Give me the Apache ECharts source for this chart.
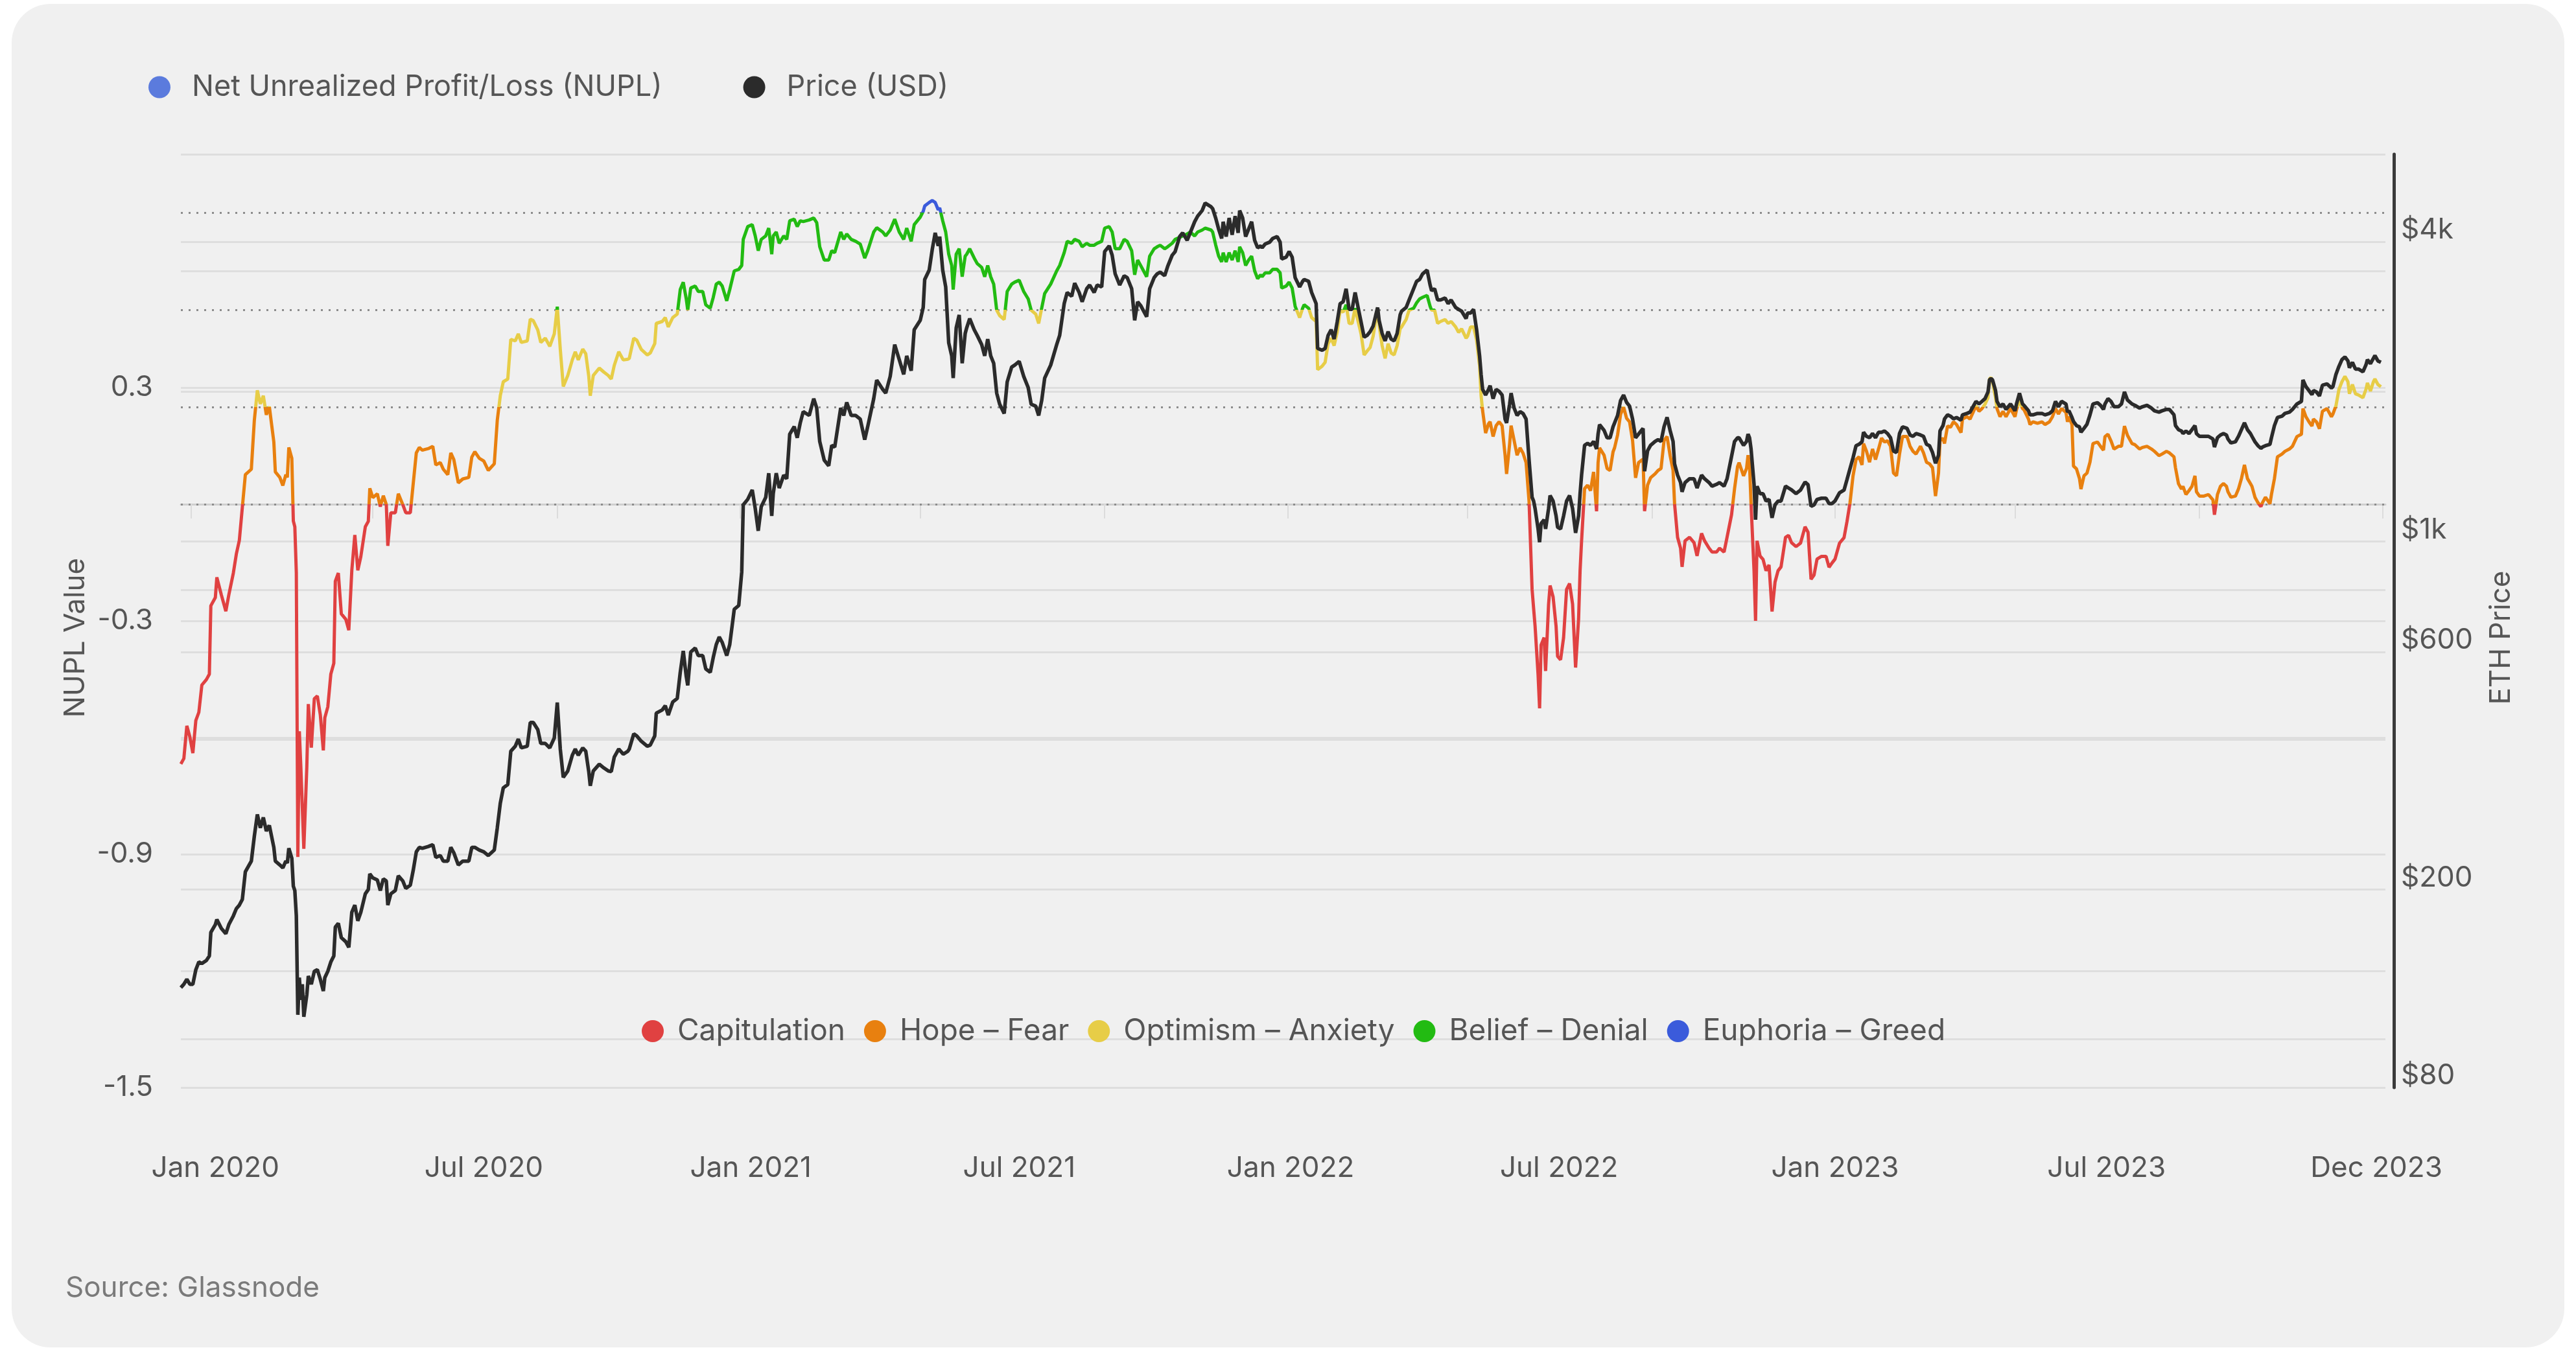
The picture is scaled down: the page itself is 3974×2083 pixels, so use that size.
<!DOCTYPE html>
<html>
<head>
<meta charset="utf-8">
<title>ETH NUPL vs Price</title>
<script src="https://cdn.jsdelivr.net/npm/echarts@6/dist/echarts.min.js"></script>
<style>
  html, body { margin: 0; padding: 0; background: #ffffff; }
  #card { position: absolute; left: 18px; top: 6px; width: 3938px; height: 2073px; background: #f0f0f0; border-radius: 60px; }
  #chart { position: absolute; left: 0; top: 0; width: 3974px; height: 2083px; }
</style>
</head>
<body>
<div id="card"></div>
<div id="chart"></div>
<script>
// ---- data (dates, NUPL value, ETH price in USD) ----
// first four points are late Dec 2019
const dates2020 = [
  '2019-12-25','2019-12-27','2019-12-29','2019-12-31','2020-01-02','2020-01-04','2020-01-06','2020-01-08','2020-01-11','2020-01-13',
  '2020-01-14','2020-01-17','2020-01-18','2020-01-21','2020-01-24','2020-01-26','2020-01-29','2020-01-31','2020-02-02','2020-02-04',
  '2020-02-06','2020-02-10','2020-02-12','2020-02-14','2020-02-16','2020-02-18','2020-02-20','2020-02-22','2020-02-25','2020-02-26',
  '2020-02-29','2020-03-02','2020-03-04','2020-03-05','2020-03-06','2020-03-08','2020-03-09','2020-03-10','2020-03-11','2020-03-12',
  '2020-03-13','2020-03-14','2020-03-15','2020-03-16','2020-03-18','2020-03-19','2020-03-21','2020-03-23','2020-03-25','2020-03-27',
  '2020-03-29','2020-03-30','2020-04-01','2020-04-03','2020-04-05','2020-04-06','2020-04-08','2020-04-10','2020-04-13','2020-04-15',
  '2020-04-17','2020-04-19','2020-04-21','2020-04-23','2020-04-26','2020-04-28','2020-04-29','2020-05-01','2020-05-04','2020-05-06',
  '2020-05-08','2020-05-10','2020-05-11','2020-05-13','2020-05-16','2020-05-18','2020-05-21','2020-05-23','2020-05-26','2020-05-28',
  '2020-05-30','2020-06-01','2020-06-03','2020-06-07','2020-06-10','2020-06-12','2020-06-15','2020-06-17','2020-06-20','2020-06-22',
  '2020-06-24','2020-06-27','2020-06-30','2020-07-04','2020-07-06','2020-07-08','2020-07-11','2020-07-14','2020-07-17','2020-07-21',
  '2020-07-23','2020-07-25','2020-07-27','2020-07-30','2020-08-01','2020-08-04','2020-08-06','2020-08-08','2020-08-12','2020-08-14',
  '2020-08-16','2020-08-19','2020-08-21','2020-08-24','2020-08-27','2020-08-30','2020-09-01','2020-09-03','2020-09-05','2020-09-08',
  '2020-09-11','2020-09-13','2020-09-15','2020-09-18','2020-09-20','2020-09-22','2020-09-23','2020-09-25','2020-09-29','2020-10-02',
  '2020-10-05','2020-10-07','2020-10-09','2020-10-12','2020-10-15','2020-10-18','2020-10-19','2020-10-22','2020-10-24','2020-10-27',
  '2020-10-31','2020-11-02','2020-11-05','2020-11-06','2020-11-10','2020-11-12','2020-11-14','2020-11-17','2020-11-20','2020-11-22',
  '2020-11-24','2020-11-26','2020-11-27','2020-11-29','2020-12-02','2020-12-04','2020-12-07','2020-12-09','2020-12-12','2020-12-14',
  '2020-12-16','2020-12-18','2020-12-20','2020-12-23','2020-12-25','2020-12-28','2020-12-31'
];
const nupl2020 = [
  -0.668,-0.654,-0.570,-0.598,-0.640,-0.556,-0.535,-0.465,-0.451,-0.437,
  -0.261,-0.240,-0.188,-0.233,-0.275,-0.233,-0.177,-0.128,-0.093,-0.008,
  0.076,0.090,0.216,0.293,0.258,0.279,0.230,0.251,0.160,0.083,
  0.069,0.048,0.076,0.069,0.146,0.118,-0.043,-0.058,-0.177,-0.907,
  -0.584,-0.675,-0.781,-0.886,-0.675,-0.514,-0.626,-0.500,-0.493,-0.542,
  -0.633,-0.549,-0.521,-0.437,-0.409,-0.198,-0.177,-0.282,-0.296,-0.324,
  -0.170,-0.079,-0.170,-0.135,-0.058,-0.044,0.041,0.017,0.027,-0.006,
  0.022,-0.001,-0.107,-0.022,-0.022,0.027,-0.001,-0.022,-0.022,0.055,
  0.132,0.146,0.139,0.143,0.149,0.101,0.107,0.090,0.076,0.132,
  0.115,0.055,0.065,0.069,0.121,0.135,0.118,0.111,0.087,0.104,
  0.216,0.279,0.315,0.322,0.424,0.420,0.438,0.416,0.420,0.476,
  0.472,0.448,0.416,0.427,0.406,0.438,0.508,0.399,0.303,0.331,
  0.371,0.392,0.371,0.399,0.387,0.329,0.279,0.331,0.350,0.340,
  0.331,0.322,0.357,0.392,0.371,0.373,0.375,0.427,0.422,0.398,
  0.384,0.389,0.413,0.465,0.470,0.480,0.456,0.480,0.489,0.552,
  0.571,0.528,0.499,0.556,0.561,0.547,0.547,0.513,0.504,0.532,
  0.566,0.571,0.561,0.523,0.552,0.600,0.604
];
const price2020 = [
  127,129,132,129,129,138,143,142,144,147,
  164,170,174,167,163,170,177,183,186,191,
  217,228,256,283,266,279,262,269,243,228,
  224,221,228,226,242,231,203,199,177,112,
  133,120,129,111,123,134,129,137,138,132,
  125,133,137,143,147,168,171,160,157,153,
  180,186,173,180,196,200,215,211,209,199,
  210,208,186,196,199,213,208,201,204,219,
  238,243,242,244,246,232,234,228,228,243,
  237,224,228,228,243,243,240,238,234,240,
  266,298,320,325,379,388,401,385,388,433,
  433,419,393,393,385,403,475,383,336,346,
  372,383,372,385,379,345,323,346,357,351,
  346,345,369,383,374,379,383,411,407,397,
  388,390,407,452,459,468,448,476,484,546,
  603,536,514,600,611,590,590,555,546,585,
  621,643,627,590,621,731,744
];

const dates2021 = [
  '2021-01-02','2021-01-03','2021-01-06','2021-01-09','2021-01-11','2021-01-13','2021-01-15','2021-01-18','2021-01-20','2021-01-22',
  '2021-01-23','2021-01-25','2021-01-27','2021-01-30','2021-02-01','2021-02-03','2021-02-06','2021-02-08','2021-02-10','2021-02-12',
  '2021-02-16','2021-02-19','2021-02-21','2021-02-23','2021-02-26','2021-03-01','2021-03-03','2021-03-05','2021-03-09','2021-03-11',
  '2021-03-13','2021-03-16','2021-03-19','2021-03-22','2021-03-25','2021-03-27','2021-03-31','2021-04-02','2021-04-06','2021-04-08',
  '2021-04-11','2021-04-14','2021-04-17','2021-04-20','2021-04-22','2021-04-25','2021-04-27','2021-05-01','2021-05-03','2021-05-04',
  '2021-05-07','2021-05-09','2021-05-11','2021-05-13','2021-05-14','2021-05-16','2021-05-18','2021-05-20','2021-05-22','2021-05-23',
  '2021-05-25','2021-05-27','2021-05-29','2021-05-31','2021-06-01','2021-06-03','2021-06-06','2021-06-08','2021-06-11','2021-06-13',
  '2021-06-15','2021-06-17','2021-06-19','2021-06-21','2021-06-23','2021-06-26','2021-06-28','2021-07-01','2021-07-03','2021-07-06',
  '2021-07-09','2021-07-12','2021-07-14','2021-07-17','2021-07-19','2021-07-21','2021-07-23','2021-07-27','2021-07-31','2021-08-02',
  '2021-08-05','2021-08-07','2021-08-10','2021-08-12','2021-08-15','2021-08-17','2021-08-20','2021-08-22','2021-08-25','2021-08-27',
  '2021-08-30','2021-09-01','2021-09-04','2021-09-06','2021-09-08','2021-09-11','2021-09-14','2021-09-16','2021-09-19','2021-09-21',
  '2021-09-23','2021-09-25','2021-09-29','2021-10-01','2021-10-04','2021-10-06','2021-10-08','2021-10-11','2021-10-13','2021-10-16',
  '2021-10-18','2021-10-21','2021-10-23','2021-10-26','2021-10-28','2021-10-31','2021-11-02','2021-11-05','2021-11-07','2021-11-11',
  '2021-11-12','2021-11-14','2021-11-16','2021-11-18','2021-11-19','2021-11-21','2021-11-23','2021-11-25','2021-11-27','2021-11-29',
  '2021-11-30','2021-12-02','2021-12-04','2021-12-06','2021-12-08','2021-12-10','2021-12-12','2021-12-14','2021-12-15','2021-12-17',
  '2021-12-20','2021-12-22','2021-12-25','2021-12-27','2021-12-28','2021-12-31'
];
const nupl2021 = [
  0.614,0.681,0.714,0.719,0.690,0.652,0.681,0.690,0.710,0.643,
  0.690,0.700,0.671,0.690,0.681,0.729,0.733,0.714,0.729,0.727,
  0.731,0.736,0.724,0.662,0.628,0.628,0.652,0.647,0.700,0.681,
  0.695,0.681,0.676,0.669,0.633,0.652,0.700,0.711,0.700,0.690,
  0.705,0.733,0.700,0.681,0.710,0.676,0.719,0.738,0.753,0.767,
  0.776,0.781,0.776,0.757,0.762,0.729,0.700,0.643,0.614,0.552,
  0.643,0.657,0.585,0.638,0.643,0.657,0.633,0.619,0.609,0.585,
  0.614,0.585,0.566,0.499,0.485,0.475,0.547,0.566,0.571,0.576,
  0.547,0.528,0.499,0.489,0.465,0.504,0.542,0.566,0.600,0.614,
  0.647,0.676,0.671,0.681,0.676,0.662,0.671,0.666,0.666,0.671,
  0.676,0.710,0.714,0.700,0.657,0.657,0.681,0.676,0.652,0.590,
  0.628,0.614,0.585,0.638,0.657,0.662,0.666,0.657,0.662,0.671,
  0.681,0.686,0.690,0.695,0.700,0.690,0.700,0.705,0.710,0.705,
  0.700,0.667,0.638,0.623,0.647,0.623,0.647,0.628,0.652,0.623,
  0.662,0.647,0.614,0.628,0.638,0.600,0.580,0.590,0.585,0.595,
  0.595,0.604,0.604,0.595,0.556,0.561
];
const price2021 = [
  869,1185,1216,1270,1165,1051,1175,1227,1372,1126,
  1248,1372,1281,1360,1337,1644,1702,1616,1731,1824,
  1792,1937,1855,1589,1457,1420,1561,1548,1855,1792,
  1904,1792,1792,1762,1602,1702,1937,2111,2022,1987,
  2148,2487,2321,2167,2361,2204,2665,2782,2953,3362,
  3511,3858,4170,3926,4099,3511,3248,2508,2361,2130,
  2688,2854,2281,2619,2688,2805,2665,2596,2487,2361,
  2552,2361,2281,1987,1887,1808,2093,2242,2262,2301,
  2148,2039,1887,1871,1792,1920,2130,2262,2487,2596,
  3006,3165,3111,3304,3165,3032,3220,3276,3165,3276,
  3248,3825,3926,3760,3450,3276,3420,3391,3220,2782,
  3032,2980,2829,3220,3391,3450,3479,3420,3571,3760,
  3825,4099,4170,4030,4170,4391,4506,4624,4786,4704,
  4665,4468,4243,4064,4391,4099,4468,4134,4506,4170,
  4624,4468,4099,4243,4391,4030,3893,3926,3893,3960,
  3995,4064,4099,3995,3696,3728
];

const dates2022 = [
  '2022-01-02','2022-01-04','2022-01-06','2022-01-09','2022-01-11','2022-01-12','2022-01-15','2022-01-17','2022-01-20','2022-01-21',
  '2022-01-24','2022-01-26','2022-01-28','2022-01-30','2022-02-01','2022-02-03','2022-02-05','2022-02-07','2022-02-09','2022-02-11',
  '2022-02-13','2022-02-15','2022-02-17','2022-02-19','2022-02-21','2022-02-23','2022-02-25','2022-02-27','2022-03-02','2022-03-03',
  '2022-03-05','2022-03-07','2022-03-09','2022-03-11','2022-03-13','2022-03-15','2022-03-17','2022-03-18','2022-03-21','2022-03-23',
  '2022-03-26','2022-03-28','2022-03-30','2022-04-01','2022-04-04','2022-04-06','2022-04-07','2022-04-09','2022-04-11','2022-04-13',
  '2022-04-16','2022-04-18','2022-04-20','2022-04-23','2022-04-25','2022-04-27','2022-04-30','2022-05-01','2022-05-03','2022-05-05',
  '2022-05-07','2022-05-09','2022-05-10','2022-05-11','2022-05-13','2022-05-15','2022-05-16','2022-05-18','2022-05-20','2022-05-22',
  '2022-05-24','2022-05-26','2022-05-27','2022-05-29','2022-05-30','2022-06-01','2022-06-03','2022-06-05','2022-06-07','2022-06-09',
  '2022-06-11','2022-06-13','2022-06-14','2022-06-15','2022-06-17','2022-06-18','2022-06-19','2022-06-21','2022-06-22','2022-06-24',
  '2022-06-25','2022-06-27','2022-06-29','2022-06-30','2022-07-02','2022-07-04','2022-07-06','2022-07-08','2022-07-10','2022-07-12',
  '2022-07-14','2022-07-15','2022-07-16','2022-07-18','2022-07-20','2022-07-22','2022-07-24','2022-07-26','2022-07-27','2022-07-28',
  '2022-07-31','2022-08-02','2022-08-04','2022-08-06','2022-08-07','2022-08-09','2022-08-11','2022-08-13','2022-08-15','2022-08-17',
  '2022-08-19','2022-08-21','2022-08-23','2022-08-26','2022-08-27','2022-08-29','2022-08-31','2022-09-03','2022-09-05','2022-09-07',
  '2022-09-09','2022-09-11','2022-09-13','2022-09-15','2022-09-16','2022-09-18','2022-09-20','2022-09-21','2022-09-23','2022-09-26',
  '2022-09-29','2022-10-01','2022-10-04','2022-10-06','2022-10-09','2022-10-11','2022-10-14','2022-10-16','2022-10-19','2022-10-21',
  '2022-10-24','2022-10-26','2022-10-28','2022-10-29','2022-11-01','2022-11-03','2022-11-04','2022-11-05','2022-11-06','2022-11-08',
  '2022-11-09','2022-11-10','2022-11-12','2022-11-14','2022-11-16','2022-11-18','2022-11-20','2022-11-22','2022-11-24','2022-11-26',
  '2022-11-29','2022-12-01','2022-12-03','2022-12-06','2022-12-09','2022-12-12','2022-12-14','2022-12-16','2022-12-18','2022-12-20',
  '2022-12-23','2022-12-26','2022-12-28','2022-12-30'
];
const nupl2022 = [
  0.571,0.556,0.509,0.480,0.504,0.513,0.504,0.480,0.470,0.346,
  0.355,0.365,0.413,0.427,0.408,0.442,0.499,0.494,0.513,0.465,
  0.465,0.504,0.470,0.437,0.384,0.394,0.403,0.432,0.504,0.461,
  0.408,0.375,0.413,0.389,0.384,0.408,0.451,0.456,0.475,0.499,
  0.504,0.518,0.528,0.532,0.537,0.509,0.499,0.499,0.465,0.470,
  0.475,0.465,0.470,0.456,0.442,0.451,0.427,0.432,0.456,0.456,
  0.422,0.355,0.279,0.241,0.183,0.207,0.212,0.174,0.202,0.212,
  0.202,0.126,0.078,0.154,0.202,0.164,0.126,0.145,0.131,0.107,
  0.006,-0.219,-0.267,-0.314,-0.439,-0.525,-0.362,-0.343,-0.429,-0.257,
  -0.209,-0.238,-0.314,-0.391,-0.400,-0.343,-0.219,-0.204,-0.257,-0.420,
  -0.295,-0.171,-0.094,0.040,0.049,0.035,0.083,-0.018,0.107,0.145,
  0.126,0.092,0.087,0.135,0.145,0.178,0.231,0.250,0.221,0.212,
  0.164,0.068,0.107,0.116,-0.018,0.049,0.068,0.078,0.087,0.092,
  0.164,0.174,0.126,0.087,0.001,-0.085,-0.113,-0.161,-0.094,-0.085,
  -0.099,-0.133,-0.075,-0.094,-0.113,-0.123,-0.123,-0.113,-0.123,-0.085,
  -0.027,0.040,0.097,0.107,0.073,0.092,0.126,0.102,0.001,-0.171,
  -0.300,-0.094,-0.133,-0.142,-0.171,-0.156,-0.276,-0.200,-0.171,-0.161,
  -0.085,-0.080,-0.099,-0.109,-0.100,-0.058,-0.072,-0.193,-0.182,-0.141,
  -0.134,-0.134,-0.162,-0.151
];
const price2022 = [
  3825,3728,3391,3248,3333,3362,3333,3165,3006,2444,
  2423,2444,2596,2665,2552,2758,3006,3032,3220,2928,
  2928,3165,2953,2758,2574,2596,2641,2710,2953,2782,
  2619,2530,2641,2552,2530,2619,2854,2904,2953,3058,
  3220,3333,3362,3450,3511,3276,3192,3220,3058,3058,
  3085,3006,3058,2953,2928,2904,2805,2879,2879,2928,
  2665,2361,2167,2022,1970,2022,2057,1937,2022,2004,
  1970,1762,1731,1887,1987,1855,1792,1824,1808,1762,
  1457,1227,1206,1165,1060,997,1087,1106,1060,1165,
  1237,1206,1126,1069,1060,1126,1206,1237,1165,1041,
  1126,1248,1360,1561,1575,1561,1589,1535,1644,1717,
  1673,1616,1616,1702,1731,1792,1920,1970,1904,1871,
  1762,1616,1644,1688,1384,1522,1561,1589,1602,1589,
  1702,1777,1673,1589,1433,1360,1314,1259,1314,1337,
  1337,1281,1360,1337,1314,1292,1303,1314,1292,1337,
  1483,1589,1616,1616,1561,1589,1644,1616,1535,1303,
  1106,1292,1248,1248,1206,1216,1116,1185,1206,1206,
  1292,1281,1270,1248,1269,1317,1301,1177,1185,1215,
  1222,1222,1192,1192
];

const dates2023 = [
  '2023-01-01','2023-01-04','2023-01-07','2023-01-09','2023-01-11','2023-01-13','2023-01-15','2023-01-17','2023-01-19','2023-01-20',
  '2023-01-22','2023-01-24','2023-01-26','2023-01-28','2023-01-30','2023-02-01','2023-02-03','2023-02-05','2023-02-07','2023-02-09',
  '2023-02-11','2023-02-13','2023-02-15','2023-02-18','2023-02-20','2023-02-22','2023-02-24','2023-02-27','2023-03-01','2023-03-03',
  '2023-03-05','2023-03-07','2023-03-09','2023-03-11','2023-03-12','2023-03-14','2023-03-15','2023-03-17','2023-03-19','2023-03-21',
  '2023-03-23','2023-03-26','2023-03-27','2023-03-30','2023-04-01','2023-04-03','2023-04-05','2023-04-07','2023-04-09','2023-04-11',
  '2023-04-13','2023-04-14','2023-04-15','2023-04-16','2023-04-18','2023-04-19','2023-04-21','2023-04-23','2023-04-25','2023-04-28',
  '2023-05-01','2023-05-02','2023-05-04','2023-05-06','2023-05-07','2023-05-10','2023-05-11','2023-05-13','2023-05-16','2023-05-19',
  '2023-05-21','2023-05-24','2023-05-26','2023-05-28','2023-05-30','2023-06-01','2023-06-04','2023-06-05','2023-06-06','2023-06-08',
  '2023-06-09','2023-06-11','2023-06-13','2023-06-14','2023-06-16','2023-06-18','2023-06-20','2023-06-22','2023-06-25','2023-06-27',
  '2023-06-29','2023-06-30','2023-07-02','2023-07-04','2023-07-06','2023-07-09','2023-07-11','2023-07-13','2023-07-15','2023-07-18',
  '2023-07-20','2023-07-23','2023-07-25','2023-07-28','2023-07-31','2023-08-02','2023-08-05','2023-08-07','2023-08-10','2023-08-12',
  '2023-08-15','2023-08-16','2023-08-18','2023-08-20','2023-08-21','2023-08-23','2023-08-25','2023-08-27','2023-08-29','2023-08-30',
  '2023-09-01','2023-09-04','2023-09-07','2023-09-10','2023-09-11','2023-09-13','2023-09-15','2023-09-17','2023-09-19','2023-09-20',
  '2023-09-22','2023-09-25','2023-09-27','2023-09-29','2023-10-01','2023-10-03','2023-10-05','2023-10-06','2023-10-08','2023-10-10',
  '2023-10-12','2023-10-13','2023-10-15','2023-10-18','2023-10-19','2023-10-21','2023-10-23','2023-10-26','2023-10-28','2023-10-31',
  '2023-11-02','2023-11-05','2023-11-08','2023-11-09','2023-11-11','2023-11-13','2023-11-15','2023-11-16','2023-11-18','2023-11-20',
  '2023-11-22','2023-11-25','2023-11-28','2023-11-29','2023-12-01','2023-12-03','2023-12-05','2023-12-07','2023-12-09','2023-12-10',
  '2023-12-12','2023-12-14','2023-12-16','2023-12-19','2023-12-21','2023-12-22','2023-12-24','2023-12-26','2023-12-27','2023-12-29',
  '2023-12-31'
];
const nupl2023 = [
  -0.141,-0.100,-0.086,-0.044,0.004,0.073,0.115,0.122,0.101,0.156,
  0.136,0.108,0.142,0.115,0.142,0.170,0.160,0.163,0.149,0.080,
  0.073,0.129,0.174,0.174,0.149,0.136,0.129,0.149,0.132,0.108,
  0.104,0.094,0.021,0.080,0.163,0.170,0.156,0.201,0.198,0.212,
  0.205,0.184,0.219,0.225,0.219,0.236,0.253,0.239,0.246,0.257,
  0.274,0.322,0.326,0.315,0.274,0.246,0.225,0.239,0.225,0.246,
  0.225,0.243,0.267,0.246,0.243,0.219,0.205,0.212,0.208,0.212,
  0.205,0.212,0.225,0.246,0.232,0.246,0.236,0.212,0.225,0.205,
  0.098,0.091,0.066,0.039,0.073,0.080,0.108,0.156,0.160,0.149,
  0.139,0.174,0.180,0.163,0.142,0.149,0.149,0.201,0.177,0.156,
  0.153,0.142,0.146,0.149,0.142,0.136,0.125,0.129,0.136,0.132,
  0.122,0.094,0.053,0.039,0.046,0.025,0.035,0.046,0.073,0.032,
  0.021,0.021,0.025,0.011,-0.027,0.025,0.046,0.053,0.046,0.032,
  0.018,0.021,0.039,0.066,0.101,0.066,0.053,0.046,0.018,0.004,
  -0.006,0.004,0.018,0.001,0.025,0.066,0.122,0.129,0.136,0.142,
  0.149,0.174,0.180,0.246,0.225,0.212,0.201,0.219,0.212,0.194,
  0.239,0.246,0.225,0.232,0.253,0.295,0.315,0.329,0.315,0.284,
  0.308,0.284,0.281,0.274,0.295,0.312,0.291,0.315,0.322,0.308,
  0.302
];
const price2023 = [
  1207,1253,1269,1333,1402,1473,1558,1568,1587,1658,
  1627,1617,1648,1617,1658,1658,1668,1648,1617,1520,
  1510,1648,1700,1689,1637,1627,1648,1637,1627,1568,
  1558,1510,1437,1491,1668,1710,1764,1797,1786,1764,
  1775,1753,1797,1809,1820,1866,1913,1890,1913,1937,
  1998,2113,2126,2113,2011,1913,1866,1890,1843,1890,
  1831,1890,1986,1890,1878,1831,1797,1797,1809,1809,
  1797,1809,1831,1913,1866,1913,1890,1820,1831,1775,
  1743,1710,1700,1658,1689,1721,1797,1890,1901,1878,
  1843,1890,1937,1913,1866,1866,1890,1998,1925,1890,
  1878,1854,1866,1878,1854,1831,1820,1831,1843,1843,
  1797,1710,1678,1668,1648,1668,1648,1678,1710,1648,
  1627,1627,1627,1607,1548,1617,1637,1648,1637,1607,
  1578,1587,1627,1678,1732,1678,1648,1627,1587,1558,
  1539,1548,1558,1568,1617,1710,1775,1786,1809,1820,
  1843,1890,1913,2113,2048,2011,1973,2011,1998,1961,
  2061,2074,2035,2048,2167,2249,2320,2349,2306,2235,
  2291,2221,2221,2194,2263,2320,2277,2335,2364,2306,
  2291
];

// NUPL zones
const zoneNames = ['Capitulation', 'Hope – Fear', 'Optimism – Anxiety', 'Belief – Denial', 'Euphoria – Greed'];
const zoneColors = ['#e04141', '#e8800f', '#e7cd47', '#22bb12', '#3b5bdb'];
const zoneBounds = [0, 0.25, 0.5, 0.75];

// axis ticks / labels
const nuplLabels = [-1.5, -0.9, -0.3, 0.3];
const priceLabels = [80, 200, 600, 1000, 4000];
const priceGridLines = [100, 200, 400, 600, 800, 1000, 2000, 4000];
const xRange = ['2019-12-25', '2024-01-03'];
const xTickDates = ['2020-01-01','2020-05-01','2020-09-01','2021-01-01','2021-05-01','2021-09-01','2022-01-01',
  '2022-05-01','2022-09-01','2023-01-01','2023-05-01','2023-09-01','2024-01-01'];
const xLabelDates = ['2020-01-17','2020-07-14','2021-01-08','2021-07-06','2022-01-03','2022-07-01',
  '2023-01-01','2023-07-01','2023-12-28'];
const monthNames = ['Jan','Feb','Mar','Apr','May','Jun','Jul','Aug','Sep','Oct','Nov','Dec'];

const NUPL_NAME = 'Net Unrealized Profit/Loss (NUPL)';
const PRICE_NAME = 'Price (USD)';
const FONT = 'Inter, "Noto Sans", sans-serif';
const TEXT = '#555555';
const GRID = '#dedede';

// dates -> UTC timestamps for a plain value axis
const ts = (s) => Date.parse(s);

const dates = [].concat(dates2020, dates2021, dates2022, dates2023);
const nuplValues = [].concat(nupl2020, nupl2021, nupl2022, nupl2023);
const priceValues = [].concat(price2020, price2021, price2022, price2023);

const nuplData = dates.map((d, i) => [ts(d), nuplValues[i]]);
const priceData = dates.map((d, i) => [ts(d), priceValues[i]]);

// piecewise zones from the bounds
const pieces = zoneNames.map((name, i) => {
  const p = { label: name, color: zoneColors[i] };
  if (i > 0) p.gte = zoneBounds[i - 1];
  if (i < zoneBounds.length) p.lt = zoneBounds[i];
  return p;
});

// split lines of the NUPL axis run -1.5 .. 0.9 by 0.3; the one at 0 is left to the dotted zone line
const nuplSplitColors = [GRID, GRID, GRID, GRID, GRID, 'rgba(0,0,0,0)', GRID, GRID, GRID];

const chart = echarts.init(document.getElementById('chart'));

const option = {
  animation: false,
  textStyle: { fontFamily: FONT },
  grid: { left: 279, right: 294, top: 238, bottom: 405, outerBoundsMode: 'none' },
  legend: {
    left: 224,
    top: 107,
    icon: 'circle',
    itemWidth: 34,
    itemHeight: 34,
    itemGap: 125,
    selectedMode: false,
    textStyle: { fontSize: 45, color: TEXT, fontFamily: FONT, padding: [0, 0, 0, 28] },
    data: [
      { name: NUPL_NAME, itemStyle: { color: '#5b7bdd' } },
      { name: PRICE_NAME, itemStyle: { color: '#2b2b2b' } }
    ]
  },
  visualMap: {
    type: 'piecewise',
    seriesIndex: 0,
    dimension: 1,
    orient: 'horizontal',
    left: 975,
    top: 1553,
    itemWidth: 34,
    itemHeight: 34,
    itemGap: 29,
    textGap: 21,
    itemSymbol: 'circle',
    selectedMode: false,
    textStyle: { fontSize: 46, color: TEXT, fontFamily: FONT },
    pieces: pieces
  },
  xAxis: {
    type: 'value',
    min: ts(xRange[0]),
    max: ts(xRange[1]),
    axisLine: { show: true, lineStyle: { color: '#cfcfcf', width: 3 } },
    axisTick: { show: true, length: 22, lineStyle: { color: '#dcdcdc', width: 2 }, customValues: xTickDates.map(ts) },
    axisLabel: {
      customValues: xLabelDates.map(ts),
      fontSize: 44,
      color: TEXT,
      margin: 103,
      formatter: (v) => {
        const d = new Date(v);
        return monthNames[d.getUTCMonth()] + ' ' + d.getUTCFullYear();
      }
    },
    splitLine: { show: false }
  },
  yAxis: [
    {
      type: 'value',
      position: 'left',
      min: -1.5,
      max: 0.9,
      interval: 0.3,
      name: 'NUPL Value',
      nameLocation: 'middle',
      nameGap: 136,
      nameRotate: 90,
      nameTextStyle: { fontSize: 44, color: TEXT, padding: [0, 52, 0, 0] },
      axisLine: { show: false },
      axisTick: { show: false },
      axisLabel: { customValues: nuplLabels, fontSize: 44, color: TEXT, margin: 43, formatter: (v) => String(v) },
      splitLine: { show: true, lineStyle: { color: nuplSplitColors, width: 3 } }
    },
    {
      type: 'log',
      logBase: 10,
      position: 'right',
      offset: 13,
      min: 80,
      max: 6000,
      name: 'ETH Price',
      nameLocation: 'middle',
      nameGap: 144,
      nameRotate: 90,
      nameTextStyle: { fontSize: 44, color: TEXT, padding: [0, 52, 0, 0] },
      axisLine: { show: true, lineStyle: { color: '#3a3a3a', width: 5 } },
      axisTick: { show: false },
      axisLabel: {
        customValues: priceLabels,
        fontSize: 44,
        color: TEXT,
        margin: 11,
        verticalAlign: 'bottom',
        padding: [0, 0, -4, 0],
        formatter: (v) => (v >= 1000 ? '$' + (v / 1000) + 'k' : '$' + v)
      },
      splitLine: { show: false }
    }
  ],
  series: [
    {
      name: NUPL_NAME,
      type: 'line',
      yAxisIndex: 0,
      data: nuplData,
      symbol: 'none',
      color: '#5b7bdd',
      lineStyle: { width: 5 },
      markLine: {
        silent: true,
        symbol: 'none',
        z: 1,
        label: { show: false },
        lineStyle: { color: '#8c8c8c', type: [3, 9], width: 3 },
        data: zoneBounds.map((v) => ({ yAxis: v }))
      }
    },
    {
      name: PRICE_NAME,
      type: 'line',
      yAxisIndex: 1,
      data: priceData,
      symbol: 'none',
      color: '#2b2b2b',
      lineStyle: { width: 5.5, color: '#2b2b2b' },
      markLine: {
        silent: true,
        symbol: 'none',
        z: 1,
        label: { show: false },
        lineStyle: { color: GRID, type: 'solid', width: 3 },
        data: priceGridLines.map((v) => ({ yAxis: v }))
      }
    }
  ],
  graphic: [
    {
      type: 'text',
      left: 101,
      top: 1966,
      style: { text: 'Source: Glassnode', fontSize: 44, fill: '#7a7a7a', fontFamily: FONT }
    }
  ]
};

chart.setOption(option);
</script>
</body>
</html>
